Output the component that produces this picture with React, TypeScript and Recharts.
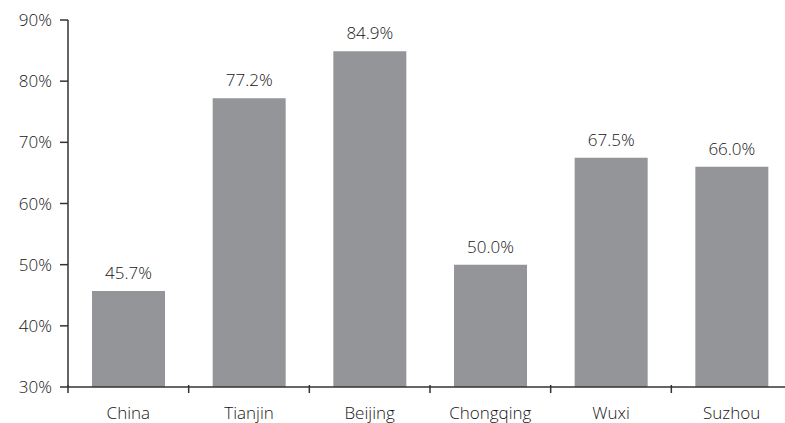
import { BarChart, Bar, XAxis, YAxis, LabelList } from "recharts";

const cities = ["China", "Tianjin", "Beijing", "Chongqing", "Wuxi", "Suzhou"];
const shares = [45.7, 77.2, 84.9, 50.0, 67.5, 66.0];
const yTicks = [30, 40, 50, 60, 70, 80, 90];

const data = cities.map((city, i) => ({ city, share: shares[i] }));

const FONT = "'Open Sans', sans-serif";
const INK = "#333333";
const TEXT_INK = "#161616";

function CityTick(props: any) {
  const { x, y, payload } = props;
  const half = payload?.offset ?? 60;
  return (
    <g>
      <line
        x1={x - half}
        x2={x - half}
        y1={y - 2}
        y2={y + 6}
        stroke={INK}
        strokeWidth={1.5}
      />
      <text
        x={x}
        y={y + 32}
        textAnchor="middle"
        fontFamily={FONT}
        fontWeight={300}
        fontSize={17}
        fill={TEXT_INK}
      >
        {payload.value}
      </text>
    </g>
  );
}

export default function App() {
  return (
    <div
      style={{
        position: "absolute",
        left: 0,
        top: 0,
        width: 785,
        height: 423,
        overflow: "hidden",
        background: "#fff",
      }}
    >
      <BarChart
        width={800}
        height={423}
        data={data}
        margin={{ top: 20, right: 8, bottom: 0, left: 0 }}
      >
        <XAxis
          dataKey="city"
          height={36}
          tickSize={0}
          tickMargin={0}
          tick={<CityTick />}
          axisLine={{ stroke: INK, strokeWidth: 1.5 }}
          interval={0}
        />
        <YAxis
          width={68}
          domain={[30, 90]}
          ticks={yTicks}
          allowDataOverflow
          tickFormatter={(v: number) => `${v}%`}
          tickSize={8}
          tickMargin={8}
          tickLine={{ stroke: INK, strokeWidth: 1.5 }}
          axisLine={{ stroke: INK, strokeWidth: 1.5 }}
          tick={{ fontFamily: FONT, fontWeight: 300, fontSize: 17, fill: TEXT_INK }}
        />
        <Bar dataKey="share" fill="#939598" barSize={73} isAnimationActive={false}>
          <LabelList
            dataKey="share"
            position="top"
            offset={12}
            formatter={(v: any) => `${Number(v).toFixed(1)}%`}
            style={{ fontFamily: FONT, fontWeight: 300, fontSize: 17, fill: TEXT_INK }}
          />
        </Bar>
      </BarChart>
    </div>
  );
}
